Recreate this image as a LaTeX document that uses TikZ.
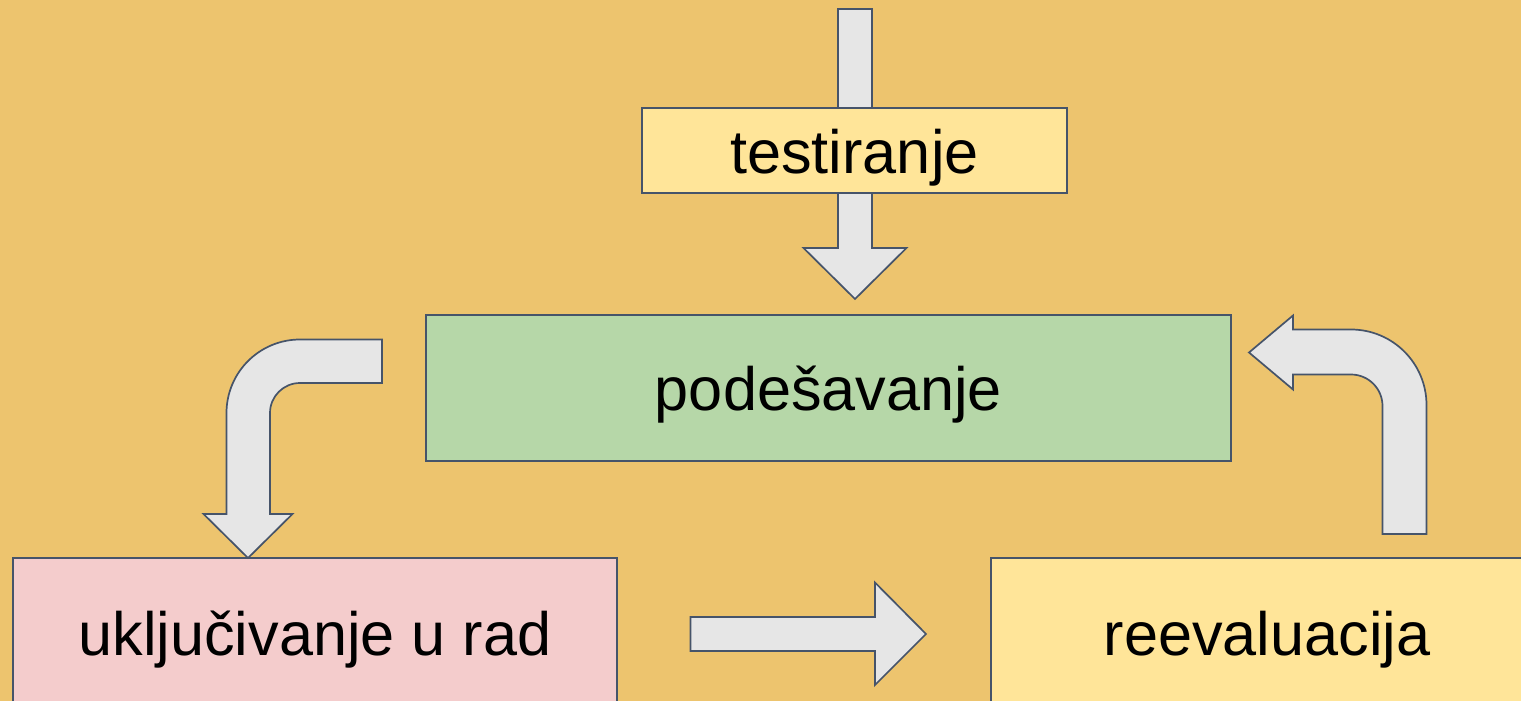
\documentclass[tikz,border=0pt]{standalone}
\usepackage{fontspec}
\setmainfont{Liberation Sans}
\definecolor{bgc}{RGB}{237,196,110}
\definecolor{edgec}{RGB}{70,84,106}
\definecolor{arrowc}{RGB}{230,230,230}
\definecolor{yellowc}{RGB}{255,229,153}
\definecolor{greenc}{RGB}{182,215,168}
\definecolor{pinkc}{RGB}{244,204,204}
\tikzset{
  boxnode/.style={draw=edgec, line width=1.5pt, rectangle, inner sep=0pt,
    text height=45.5pt, text depth=0pt,
    font=\fontsize{61.2}{70}\selectfont},
  blockarrow/.style={draw=edgec, fill=arrowc, line width=1.7pt, line join=miter}
}
\begin{document}
\begin{tikzpicture}[x=1pt,y=-1pt]
\useasboundingbox (0,0) rectangle (1521,701);
\clip (0,0) rectangle (1521,701);
\fill[bgc] (0,0) rectangle (1521,701);

% top block arrow (behind the testing box)
\coordinate (topstart) at (855,9);
\coordinate (toptip) at (855,299);
\draw[blockarrow] (838,9) -- (872,9) -- (872,248) -- (906.5,248) -- (toptip)
  -- (803.5,248) -- (838,248) -- cycle;

% boxes
\node[boxnode, fill=yellowc, minimum width=425pt, minimum height=85pt] (test) at (854.5,150.5) {testiranje};
\node[boxnode, fill=greenc, minimum width=805pt, minimum height=146pt] (pod) at (828.5,388) {podešavanje};
\node[boxnode, fill=pinkc, minimum width=604pt, minimum height=148.5pt] (ukl) at (315,632.25) {uključivanje u rad};
\node[boxnode, fill=yellowc, minimum width=552pt, minimum height=148.5pt] (reev) at (1267,632.25) {reevaluacija};

% left bent arrow: podešavanje -> uključivanje u rad
\coordinate (ltip) at (248,558);
\draw[blockarrow] (382,339.5) -- (300,339.5) arc[start angle=270, end angle=180, radius=73.5]
  -- (226.5,514) -- (203.5,514) -- (ltip) -- (292.5,514) -- (270,514) -- (270,413)
  arc[start angle=180, end angle=270, radius=30] -- (382,383) -- cycle;

% bottom straight arrow: uključivanje u rad -> reevaluacija
\coordinate (btip) at (926,634);
\draw[blockarrow] (690.5,617) -- (875,617) -- (875,582.5) -- (btip) -- (875,685)
  -- (875,651) -- (690.5,651) -- cycle;

% right bent arrow: reevaluacija -> podešavanje
\coordinate (rtip) at (1249,352.5);
\draw[blockarrow] (1426.5,534) -- (1426.5,405) arc[start angle=0, end angle=-90, radius=75.5]
  -- (1293,329.5) -- (1293,315.5) -- (rtip) -- (1293,389.5) -- (1293,374.5)
  -- (1351,374.5) arc[start angle=-90, end angle=0, radius=31.5] -- (1382.5,534) -- cycle;
\end{tikzpicture}
\end{document}
